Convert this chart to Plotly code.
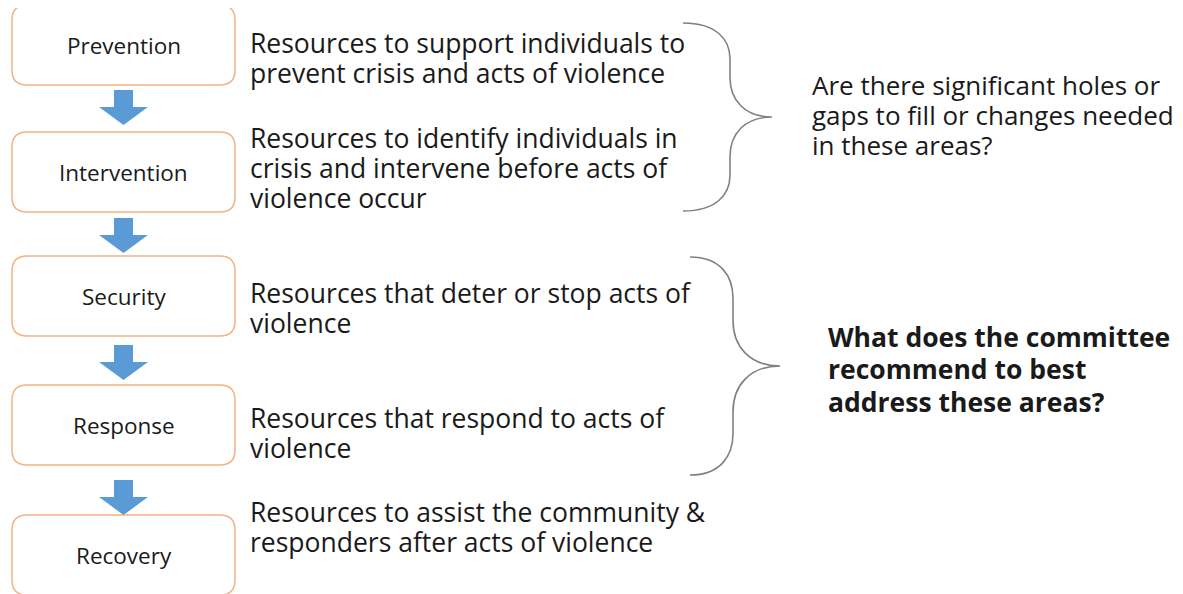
import plotly.graph_objects as go

W, H = 1183, 594
PAGE_MARGIN = 8  # default body margin of the html page

# ---- content ----
stages = ["Prevention", "Intervention", "Security", "Response", "Recovery"]
descriptions = [
    ["Resources to support individuals to", "prevent crisis and acts of violence"],
    ["Resources to identify individuals in", "crisis and intervene before acts of", "violence occur"],
    ["Resources that deter or stop acts of", "violence"],
    ["Resources that respond to acts of", "violence"],
    ["Resources to assist the community &", "responders after acts of violence"],
]
question_gaps = ["Are there significant holes or", "gaps to fill or changes needed", "in these areas?"]
question_recommend = ["What does the committee", "recommend to best", "address these areas?"]

# ---- layout parameters (pixels) ----
box_tops = [5, 132, 256, 385, 515]
box_h = 80
box_x0, box_x1 = 12, 235
radius = 15
arrow_tops = [90, 218, 345, 480]
desc_x = 250
desc_first_baseline = [53, 148, 303, 428, 522]
desc_pitch = 30
desc_size = 26.5
label_size = 22.5
q1_x, q1_base, q1_pitch, q1_size = 812, 95, 30, 26
q2_x, q2_base, q2_pitch = 828, 347, 32.5
line_box_h = 29

TEXT = "#1a1a1a"
ORANGE = "#F4B183"
BLUE = "#5B9BD5"
BRACE = "#808080"
FONT = "Open Sans"

fig = go.Figure()
shapes = []
ann = []


def rounded_rect(x0, y0, x1, y1, r):
    return (f"M {x0+r} {y0} L {x1-r} {y0} Q {x1} {y0} {x1} {y0+r} "
            f"L {x1} {y1-r} Q {x1} {y1} {x1-r} {y1} L {x0+r} {y1} "
            f"Q {x0} {y1} {x0} {y1-r} L {x0} {y0+r} Q {x0} {y0} {x0+r} {y0} Z")


cx = (box_x0 + box_x1) / 2
for name, top in zip(stages, box_tops):
    shapes.append(dict(type="path", path=rounded_rect(box_x0, top, box_x1, top + box_h, radius),
                       line=dict(color=ORANGE, width=1.5), fillcolor="white", layer="below"))
    ann.append(dict(x=cx, y=top + box_h / 2, text=name, showarrow=False,
                    xanchor="center", yanchor="middle",
                    font=dict(family=FONT, size=label_size, color=TEXT)))

# down arrows
shaft_w, head_w, shaft_len, head_len = 19, 49, 17, 18
for t in arrow_tops:
    p = (f"M {cx-shaft_w/2} {t} L {cx+shaft_w/2} {t} L {cx+shaft_w/2} {t+shaft_len} "
         f"L {cx+head_w/2} {t+shaft_len} L {cx} {t+shaft_len+head_len} "
         f"L {cx-head_w/2} {t+shaft_len} L {cx-shaft_w/2} {t+shaft_len} Z")
    shapes.append(dict(type="path", path=p, fillcolor=BLUE, line=dict(color=BLUE, width=0)))


def add_lines(lines, x, base, pitch, size, bold=False):
    for i, line in enumerate(lines):
        b = base + i * pitch
        txt = f"<b>{line}</b>" if bold else line
        yc = b + 0.293 * size - line_box_h / 2
        ann.append(dict(x=x, y=yc, text=txt, showarrow=False,
                        xanchor="left", yanchor="middle",
                        height=line_box_h, valign="bottom", borderpad=0, borderwidth=0,
                        font=dict(family=FONT, size=size, color=TEXT)))


for lines, base in zip(descriptions, desc_first_baseline):
    add_lines(lines, desc_x, base, desc_pitch, desc_size)

add_lines(question_gaps, q1_x, q1_base, q1_pitch, q1_size)
add_lines(question_recommend, q2_x, q2_base, q2_pitch, desc_size, bold=True)


def brace(x_end, y_top, y_bot, x_mid, x_tip):
    ym = (y_top + y_bot) / 2
    h = (y_bot - y_top) / 2
    a = h * 0.38
    b = h * 0.58
    return (f"M {x_end} {y_top} C {x_end+ (x_mid-x_end)*0.7} {y_top}, {x_mid} {y_top + a*0.45}, {x_mid} {y_top + a} "
            f"L {x_mid} {y_top + b} C {x_mid} {ym - h*0.18}, {x_mid + (x_tip-x_mid)*0.35} {ym}, {x_tip} {ym} "
            f"C {x_mid + (x_tip-x_mid)*0.35} {ym}, {x_mid} {ym + h*0.18}, {x_mid} {y_bot - b} "
            f"L {x_mid} {y_bot - a} C {x_mid} {y_bot - a*0.45}, {x_end + (x_mid-x_end)*0.7} {y_bot}, {x_end} {y_bot}")


shapes.append(dict(type="path", path=brace(683, 23, 211, 730, 772), line=dict(color=BRACE, width=1.6)))
shapes.append(dict(type="path", path=brace(690, 257, 475, 733, 780), line=dict(color=BRACE, width=1.6)))

fig.update_layout(
    width=W - PAGE_MARGIN, height=H - PAGE_MARGIN,
    margin=dict(l=0, r=0, t=0, b=0),
    paper_bgcolor="white", plot_bgcolor="white",
    xaxis=dict(range=[PAGE_MARGIN, W], visible=False, fixedrange=True),
    yaxis=dict(range=[H, PAGE_MARGIN], visible=False, fixedrange=True),
    shapes=shapes, annotations=ann, showlegend=False,
)

fig.write_html("out.html")
